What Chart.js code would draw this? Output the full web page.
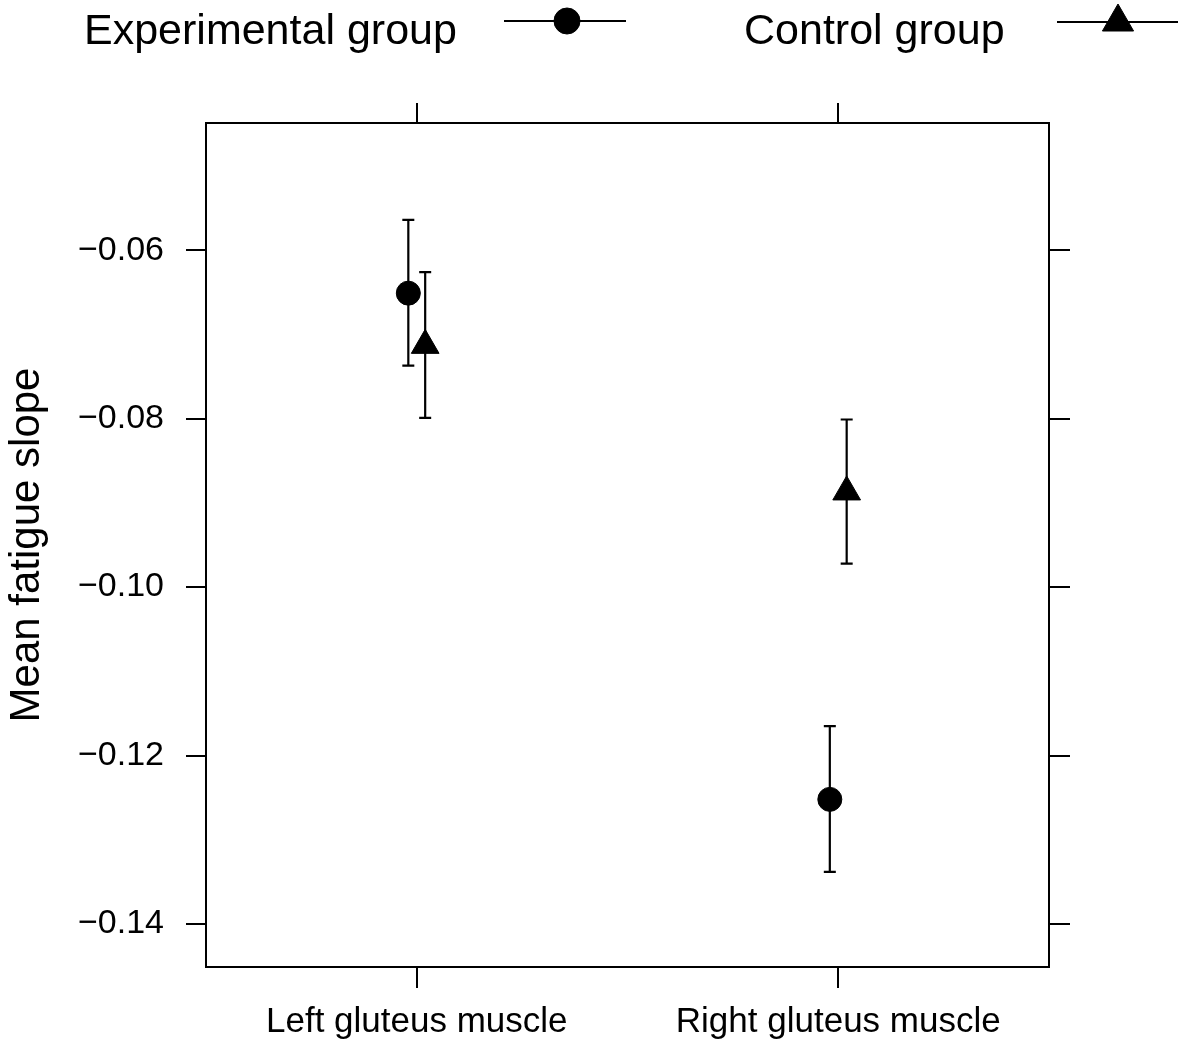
<!DOCTYPE html>
<html lang="en">
  <head>
    <meta charset="UTF-8" />
    <title>Mean fatigue slope</title>
    <script src="https://cdn.jsdelivr.net/npm/chart.js"></script>
    <style>
      body {
        margin: 0;
        background: #fff;
      }
      canvas {
        display: block;
      }
    </style>
  </head>
  <body>
    <canvas id="chart" width="1181" height="1044"></canvas>

    <script>
      const categories = ["Left gluteus muscle", "Right gluteus muscle"];
      const groups = ["Experimental group", "Control group"];

      // means and error bar ends
      const expMean = [-0.0651, -0.1252];
      const expLower = [-0.0737, -0.1338];
      const expUpper = [-0.0564, -0.1165];
      const ctrlMean = [-0.0713, -0.0887];
      const ctrlLower = [-0.0799, -0.0972];
      const ctrlUpper = [-0.0626, -0.0801];

      const yTicks = [-0.14, -0.12, -0.1, -0.08, -0.06];
      const yMin = -0.1451;
      const yMax = -0.0449;
      const dodge = 0.02;

      const font = "'Liberation Sans', Arial, sans-serif";

      const errorBars = {
        id: "errorBars",
        beforeDatasetsDraw(chart) {
          const { ctx } = chart;
          const x = chart.scales.x;
          const y = chart.scales.y;
          ctx.save();
          ctx.strokeStyle = "#000";
          ctx.lineWidth = 2.2;
          chart.data.datasets.forEach((ds) => {
            ds.data.forEach((p, i) => {
              const px = x.getPixelForValue(p.x);
              const top = y.getPixelForValue(ds.upper[i]);
              const bot = y.getPixelForValue(ds.lower[i]);
              ctx.beginPath();
              ctx.moveTo(px, top);
              ctx.lineTo(px, bot);
              ctx.moveTo(px - 6, top);
              ctx.lineTo(px + 6, top);
              ctx.moveTo(px - 6, bot);
              ctx.lineTo(px + 6, bot);
              ctx.stroke();
            });
          });
          ctx.restore();
        },
      };

      // legend on top: text first, then a line with the symbol
      const topLegend = {
        id: "topLegend",
        afterDraw(chart) {
          const ctx = chart.ctx;
          ctx.save();
          ctx.fillStyle = "#000";
          ctx.strokeStyle = "#000";
          ctx.font = "43px " + font;
          ctx.textBaseline = "alphabetic";
          ctx.fillText(groups[0], 84, 44);
          ctx.fillText(groups[1], 744, 44);
          ctx.lineWidth = 2.2;
          ctx.beginPath();
          ctx.moveTo(504, 21);
          ctx.lineTo(626, 21);
          ctx.moveTo(1057, 22);
          ctx.lineTo(1178, 22);
          ctx.stroke();
          ctx.lineWidth = 1;
          Chart.helpers.drawPoint(ctx, { pointStyle: "circle", radius: 13, borderWidth: 1 }, 567, 21);
          Chart.helpers.drawPoint(ctx, { pointStyle: "triangle", radius: 18, borderWidth: 1 }, 1118, 22);
          ctx.restore();
        },
      };

      const xTickSet = (axis) => {
        axis.ticks = categories.map((c, i) => ({ value: i + 1 }));
      };
      const yTickSet = (axis) => {
        axis.ticks = yTicks.map((v) => ({ value: v }));
      };

      const gridOpts = (len) => ({
        drawOnChartArea: false,
        tickLength: len,
        color: "#000",
        lineWidth: 2,
      });
      const borderOpts = { color: "#000", width: 2 };

      new Chart(document.getElementById("chart"), {
        type: "scatter",
        data: {
          datasets: [
            {
              label: groups[0],
              data: categories.map((c, i) => ({ x: i + 1 - dodge, y: expMean[i] })),
              lower: expLower,
              upper: expUpper,
              pointStyle: "circle",
              pointRadius: 12,
              backgroundColor: "#000",
              borderColor: "#000",
              borderWidth: 1,
            },
            {
              label: groups[1],
              data: categories.map((c, i) => ({ x: i + 1 + dodge, y: ctrlMean[i] })),
              lower: ctrlLower,
              upper: ctrlUpper,
              pointStyle: "triangle",
              pointRadius: 16,
              backgroundColor: "#000",
              borderColor: "#000",
              borderWidth: 1,
            },
          ],
        },
        options: {
          responsive: false,
          animation: false,
          layout: { padding: 0 },
          plugins: {
            legend: { display: false },
            tooltip: { enabled: false },
          },
          scales: {
            x: {
              type: "linear",
              position: "bottom",
              min: 0.5,
              max: 2.5,
              afterBuildTicks: xTickSet,
              afterFit: (axis) => {
                axis.height = 77;
              },
              ticks: {
                callback: (v) => categories[v - 1],
                font: { family: font, size: 35 },
                color: "#000",
                padding: 13,
                maxRotation: 0,
                autoSkip: false,
              },
              grid: gridOpts(21),
              border: borderOpts,
            },
            xTop: {
              type: "linear",
              position: "top",
              min: 0.5,
              max: 2.5,
              afterBuildTicks: xTickSet,
              afterFit: (axis) => {
                axis.height = 123;
              },
              ticks: { display: false },
              grid: gridOpts(20),
              border: borderOpts,
            },
            y: {
              type: "linear",
              position: "left",
              min: yMin,
              max: yMax,
              afterBuildTicks: yTickSet,
              afterFit: (axis) => {
                axis.width = 206;
              },
              ticks: {
                callback: (v) => "\u2212" + Math.abs(v).toFixed(2),
                font: { family: font, size: 34 },
                color: "#000",
                padding: 22,
              },
              title: {
                display: true,
                text: "Mean fatigue slope",
                font: { family: font, size: 42 },
                color: "#000",
                padding: 2,
              },
              grid: gridOpts(20),
              border: borderOpts,
            },
            yRight: {
              type: "linear",
              position: "right",
              min: yMin,
              max: yMax,
              afterBuildTicks: yTickSet,
              afterFit: (axis) => {
                axis.width = 132;
              },
              ticks: { display: false },
              grid: gridOpts(21),
              border: borderOpts,
            },
          },
        },
        plugins: [errorBars, topLegend],
      });
    </script>
  </body>
</html>
